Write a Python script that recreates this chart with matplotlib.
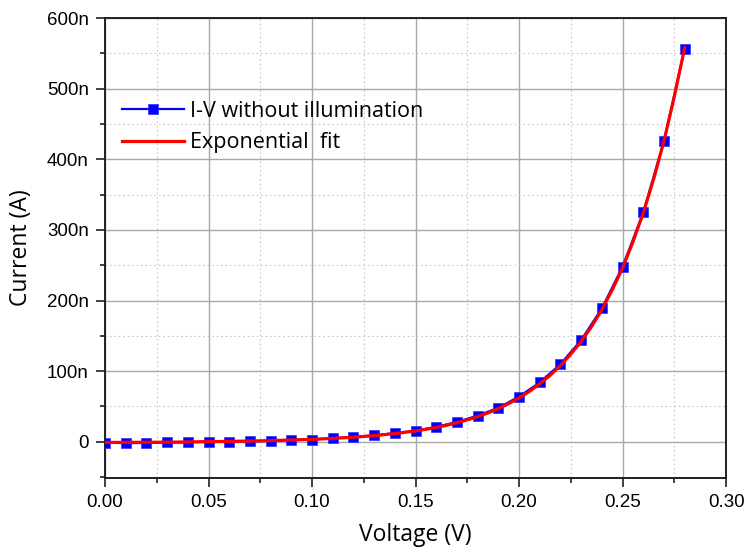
import numpy as np
import matplotlib
matplotlib.use("Agg")
import matplotlib.pyplot as plt
from matplotlib.ticker import MultipleLocator, EngFormatter

# measured I-V points (dark), current in nA
voltage = [0.00, 0.01, 0.02, 0.03, 0.04, 0.05, 0.06, 0.07, 0.08, 0.09,
           0.10, 0.11, 0.12, 0.13, 0.14, 0.15, 0.16, 0.17, 0.18, 0.19,
           0.20, 0.21, 0.22, 0.23, 0.24, 0.25, 0.26, 0.27, 0.28]
current_na = [-1.4, -2.0, -1.8, -1.0, -1.0, 0.3, 0.2, 0.6, 1.3, 2.5,
              3.0, 5.0, 6.6, 9.0, 12.3, 15.6, 21.0, 28.0, 37.0, 48.0,
              64.0, 84.0, 110.0, 144.0, 189.0, 248.0, 325.0, 426.0, 557.0]

# exponential fit curve, current in nA
fit_v = [0.00, 0.01, 0.02, 0.03, 0.04, 0.05, 0.06, 0.07, 0.08, 0.09,
         0.10, 0.11, 0.12, 0.13, 0.14, 0.15, 0.155, 0.16, 0.165, 0.17,
         0.175, 0.18, 0.185, 0.19, 0.195, 0.20, 0.205, 0.21, 0.215, 0.22,
         0.225, 0.23, 0.235, 0.24, 0.245, 0.25, 0.255, 0.26, 0.265, 0.27,
         0.275, 0.28]
fit_na = [-1.0, -0.9, -0.8, -0.6, -0.3, 0.1, 0.5, 1.0, 1.6, 2.4,
          3.4, 4.7, 6.4, 8.6, 11.5, 15.3, 17.6, 20.3, 23.3, 27.0,
          31.0, 35.5, 40.8, 47.0, 54.0, 62.0, 71.3, 82.0, 94.0, 108.0,
          124.0, 142.0, 163.0, 187.0, 215.0, 246.0, 283.0, 324.0, 372.0, 426.0,
          489.0, 558.0]

label_font = "Open Sans"
tick_font = "Liberation Sans"

fig = plt.figure(figsize=(7.47, 5.5), dpi=100)
ax = fig.add_axes([0.1406, 0.1314, 0.8314, 0.8356])

ax.plot(voltage, np.array(current_na) * 1e-9, color="#0000ff", lw=1.6,
        marker="s", ms=6.7, mfc="#0000ff", mec="#3030ff", mew=0.5,
        label="I-V without illumination", zorder=3)
ax.plot(fit_v, np.array(fit_na) * 1e-9, color="#ff0000", lw=2.3,
        label="Exponential  fit", zorder=4)

ax.set_xlim(0, 0.30)
ax.set_ylim(-51e-9, 600e-9)
ax.xaxis.set_major_locator(MultipleLocator(0.05))
ax.xaxis.set_minor_locator(MultipleLocator(0.025))
ax.yaxis.set_major_locator(MultipleLocator(100e-9))
ax.yaxis.set_minor_locator(MultipleLocator(50e-9))
ax.xaxis.set_major_formatter(lambda v, pos: f"{v:.2f}")
ax.yaxis.set_major_formatter(EngFormatter(unit="", sep=""))

ax.grid(which="major", color="#a8a8a8", lw=1.0, ls="-", zorder=0)
ax.grid(which="minor", color="#c8c8c8", lw=0.8, ls=(0, (1.5, 2.5)), zorder=0)
ax.set_axisbelow(True)

for side in ax.spines.values():
    side.set_linewidth(1.4)
    side.set_color("#202020")
ax.tick_params(which="major", direction="out", length=6.2, width=1.2,
               colors="#202020", labelsize=13.5, pad=5.5)
ax.tick_params(which="minor", direction="out", length=3.8, width=1.2,
               colors="#202020")
for lab in ax.get_xticklabels() + ax.get_yticklabels():
    lab.set_fontfamily(tick_font)
    lab.set_color("black")

ax.set_xlabel("Voltage (V)", fontsize=16.5, fontfamily=label_font, labelpad=9)
ax.set_ylabel("Current (A)", fontsize=16.5, fontfamily=label_font, labelpad=10)

leg = ax.legend(loc="upper left", bbox_to_anchor=(0.0, 0.858), frameon=False,
                prop={"family": label_font, "size": 15.5}, handlelength=2.85,
                handletextpad=0.28, labelspacing=0.5, borderaxespad=0.4)

fig.savefig("out.png", dpi=100)
